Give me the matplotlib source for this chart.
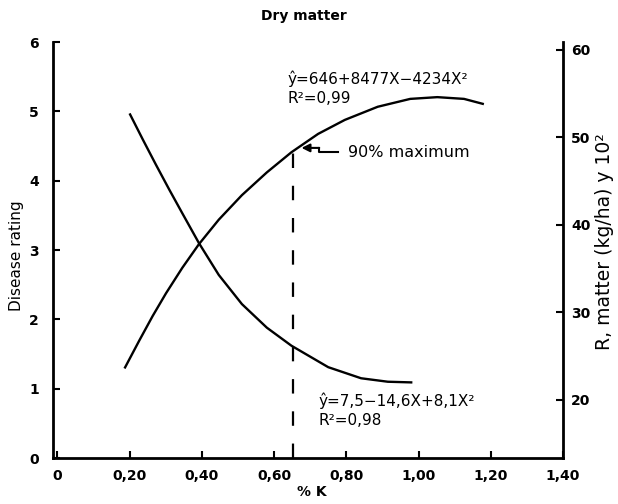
import numpy as np
import matplotlib
matplotlib.use("Agg")
import matplotlib.pyplot as plt

plt.rcParams["font.family"] = ["DejaVu Sans"]

# === data ===
# dry matter curve (right axis, kg/ha x 10^2)
dm_x = [0.186, 0.227, 0.264, 0.301, 0.346, 0.392, 0.447, 0.511, 0.58, 0.648,
        0.722, 0.796, 0.887, 0.977, 1.052, 1.126, 1.181]
dm_y = [23.6, 26.8, 29.6, 32.2, 35.1, 37.8, 40.6, 43.4, 46.0, 48.3,
        50.4, 52.0, 53.5, 54.4, 54.6, 54.4, 53.8]

# disease rating curve (left axis)
dis_x = [0.200, 0.237, 0.273, 0.310, 0.346, 0.392, 0.447, 0.511, 0.58, 0.648,
         0.75, 0.841, 0.915, 0.983]
dis_y = [4.97, 4.59, 4.23, 3.87, 3.53, 3.10, 2.64, 2.22, 1.88, 1.62,
         1.31, 1.15, 1.10, 1.09]

# 90% maximum point
k90 = 0.653
dm90 = 48.6

x_ticks = [0, 0.2, 0.4, 0.6, 0.8, 1.0, 1.2, 1.4]
x_ticklabels = ["0", "0,20", "0,40", "0,60", "0,80", "1,00", "1,20", "1,40"]
left_ticks = [0, 1, 2, 3, 4, 5, 6]
right_ticks = [20, 30, 40, 50, 60]

eq_dm = "ŷ=646+8477X\u22124234X²"
r2_dm = "R²=0,99"
eq_dis = "ŷ=7,5\u221214,6X+8,1X²"
r2_dis = "R²=0,98"

# === figure ===
fig = plt.figure(figsize=(6.18, 5.04), dpi=100)
ax = fig.add_axes([53 / 618, 46 / 504, (563 - 53) / 618, (458 - 42) / 504])
ax2 = ax.twinx()

ax.set_xlim(-0.012, 1.389)
ax.set_ylim(0, 6)
ax2.set_ylim(13.37, 60.9)

lw_axis = 2.0
for a in (ax, ax2):
    a.spines["top"].set_visible(False)
    for s in ("left", "bottom", "right"):
        a.spines[s].set_linewidth(lw_axis)
ax.spines["right"].set_visible(False)
ax2.spines["left"].set_visible(False)
ax2.spines["bottom"].set_visible(False)

ax.set_xticks(x_ticks)
ax.set_xticklabels(x_ticklabels)
ax.set_yticks(left_ticks)
ax2.set_yticks(right_ticks)

tick_font = dict(labelsize=10, direction="in", length=5, width=1.5)
ax.tick_params(axis="x", pad=8, **tick_font)
ax.tick_params(axis="y", pad=10, **tick_font)
ax2.tick_params(axis="y", pad=6, **tick_font)
for lab in ax.get_xticklabels() + ax.get_yticklabels() + ax2.get_yticklabels():
    lab.set_fontweight("bold")

# curves
ax2.plot(dm_x, dm_y, color="black", linewidth=1.7, solid_capstyle="butt",
         solid_joinstyle="round")
ax.plot(dis_x, dis_y, color="black", linewidth=1.7, solid_capstyle="butt",
        solid_joinstyle="round")

# dashed line at 90% maximum
dl, = ax2.plot([k90, k90], [13.37, dm90], color="black", linewidth=1.6)
dl.set_dashes((6.5, 8))

# annotations
ax2.annotate("", xy=(0.676, 48.8), xytext=(0.725, 48.8),
             arrowprops=dict(arrowstyle="-|>", color="black", lw=1.5,
                             mutation_scale=12, shrinkA=0, shrinkB=0))
ax2.plot([0.725, 0.725, 0.778], [48.8, 48.35, 48.35], color="black", linewidth=1.5)
ax2.text(0.805, 48.3, "90% maximum", fontsize=11.5, va="center", ha="left")

ax2.text(0.636, 56.7, eq_dm, fontsize=11, va="center", ha="left")
ax2.text(0.636, 54.5, r2_dm, fontsize=11, va="center", ha="left")
ax2.text(0.722, 19.9, eq_dis, fontsize=11, va="center", ha="left")
ax2.text(0.722, 17.7, r2_dis, fontsize=11, va="center", ha="left")

# labels
fig.text(304 / 618, 1 - 16 / 504, "Dry matter", fontsize=10, fontweight="bold",
         ha="center", va="center")
fig.text(312 / 618, 1 - 492 / 504, "% K", fontsize=10, fontweight="bold",
         ha="center", va="center")
fig.text(17 / 618, 1 - 256 / 504, "Disease rating", fontsize=11, rotation=90,
         ha="center", va="center")
fig.text(604 / 618, 1 - 242 / 504, "R, matter (kg/ha) y 10²", fontsize=13.5, rotation=90,
         ha="center", va="center")

fig.savefig("out.png", dpi=100)
